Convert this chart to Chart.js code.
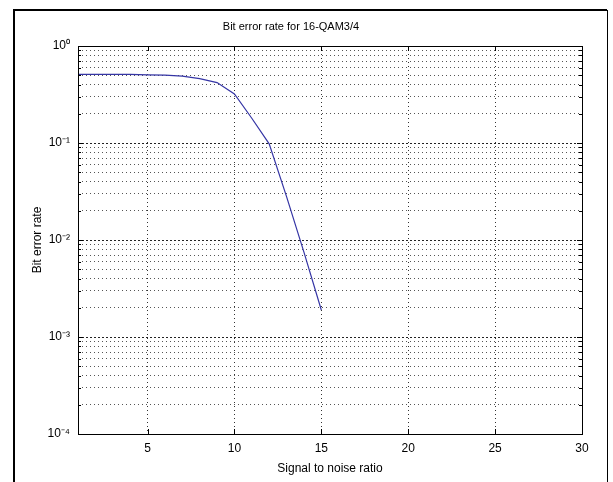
<!DOCTYPE html>
<html>
<head>
<meta charset="utf-8">
<script src="https://cdn.jsdelivr.net/npm/chart.js@4/dist/chart.umd.min.js"></script>
<style>
  html, body { margin: 0; padding: 0; background: #fff; }
  #wrap { width: 613px; height: 482px; position: relative; }
</style>
</head>
<body>
<div id="wrap"><canvas id="berChart" width="613" height="482"></canvas></div>
<script>
// Data
const snr = [1, 2, 3, 4, 5, 6, 7, 8, 9, 10, 11, 12, 13, 14, 15];
const ber = [0.51, 0.51, 0.51, 0.51, 0.505, 0.5, 0.49, 0.46, 0.42, 0.32, 0.18, 0.098, 0.028, 0.0075, 0.0019];

// Axis ticks
const xTicks = [5, 10, 15, 20, 25, 30];
const yDecades = [1, 0.1, 0.01, 0.001, 0.0001];
const yDecadeLabels = ["10\u2070", "10\u207B\u00B9", "10\u207B\u00B2", "10\u207B\u00B3", "10\u207B\u2074"];

const FONT = "'Liberation Sans', Arial, sans-serif";

// all log grid values: 1..9 x 10^k
const yGrid = [];
for (let e = -4; e <= 0; e++) {
  for (let m = 1; m <= 9; m++) {
    const v = +(m * Math.pow(10, e)).toPrecision(3);
    if (v <= 1) yGrid.push(v);
  }
}

function isDecade(v) {
  return yDecades.some(d => Math.abs(d - v) < d * 1e-6);
}

// frame of the screenshot + matlab box and inward ticks
const matlabBox = {
  id: "matlabBox",
  beforeDraw(chart) {
    const c = chart.ctx;
    c.save();
    c.fillStyle = "#fff";
    c.fillRect(0, 0, chart.width, chart.height);
    c.strokeStyle = "#000";
    c.lineWidth = 2;
    c.beginPath();
    c.moveTo(14, 482);
    c.lineTo(14, 10);
    c.lineTo(607, 10);
    c.stroke();
    c.lineWidth = 1;
    c.beginPath();
    c.moveTo(607.5, 10);
    c.lineTo(607.5, 482);
    c.stroke();
    c.restore();
  },
  afterDraw(chart) {
    const {ctx: c, chartArea: a, scales} = chart;
    c.save();
    c.strokeStyle = "#000";
    c.lineWidth = 1;
    c.strokeRect(a.left + 0.5, a.top + 0.5, a.right - a.left, a.bottom - a.top);
    c.beginPath();
    xTicks.forEach(t => {
      const x = Math.round(scales.x.getPixelForValue(t)) + 0.5;
      c.moveTo(x, a.bottom); c.lineTo(x, a.bottom - 5);
      c.moveTo(x, a.top); c.lineTo(x, a.top + 5);
    });
    yGrid.forEach(v => {
      const y = Math.round(scales.y.getPixelForValue(v)) + 0.5;
      const len = isDecade(v) ? 5 : 3;
      c.moveTo(a.left, y); c.lineTo(a.left + len, y);
      c.moveTo(a.right, y); c.lineTo(a.right - len, y);
    });
    c.stroke();
    c.restore();
  }
};

new Chart(document.getElementById("berChart"), {
  type: "line",
  data: {
    labels: snr,
    datasets: [{
      label: "BER",
      data: snr.map((s, i) => ({x: s, y: ber[i]})),
      borderColor: "#3535a5",
      borderWidth: 1.2,
      pointRadius: 0,
      tension: 0,
      fill: false
    }]
  },
  options: {
    responsive: false,
    animation: false,
    layout: { padding: { left: 0, right: 31, top: 0, bottom: 0 } },
    plugins: {
      legend: { display: false },
      tooltip: { enabled: false },
      title: {
        display: true,
        text: "Bit error rate for 16-QAM3/4",
        color: "#000",
        font: { family: FONT, size: 11, weight: "normal" },
        padding: { top: 20, bottom: 12.8 }
      }
    },
    scales: {
      x: {
        type: "linear",
        min: 1,
        max: 30,
        afterBuildTicks: scale => { scale.ticks = xTicks.map(v => ({value: v})); },
        afterFit: scale => { scale.height = 48; },
        ticks: {
          color: "#000",
          padding: 7,
          maxRotation: 0,
          autoSkip: false,
          font: { family: FONT, size: 12 }
        },
        grid: { color: "#333", lineWidth: 1, drawTicks: false },
        border: { display: false, dash: [1, 3] },
        title: {
          display: true,
          text: "Signal to noise ratio",
          color: "#000",
          font: { family: FONT, size: 12 },
          padding: { top: 0, bottom: 6 }
        }
      },
      y: {
        type: "logarithmic",
        min: 0.0001,
        max: 1,
        afterBuildTicks: scale => { scale.ticks = yGrid.map(v => ({value: v})); },
        afterFit: scale => { scale.width = 78; },
        ticks: {
          color: "#000",
          padding: 8,
          autoSkip: false,
          font: { family: FONT, size: 12 },
          callback: value => {
            const i = yDecades.findIndex(d => Math.abs(d - value) < d * 1e-6);
            return i >= 0 ? yDecadeLabels[i] : "";
          }
        },
        grid: {
          color: ctx => isDecade(ctx.tick.value) ? "#222" : "#555",
          lineWidth: 1,
          drawTicks: false
        },
        border: {
          display: false,
          dash: ctx => isDecade(ctx.tick.value) ? [2, 2] : [1, 3]
        },
        title: {
          display: true,
          text: "Bit error rate",
          color: "#000",
          font: { family: FONT, size: 12 },
          padding: { top: 30, bottom: 0 }
        }
      }
    }
  },
  plugins: [matlabBox]
});
</script>
</body>
</html>
